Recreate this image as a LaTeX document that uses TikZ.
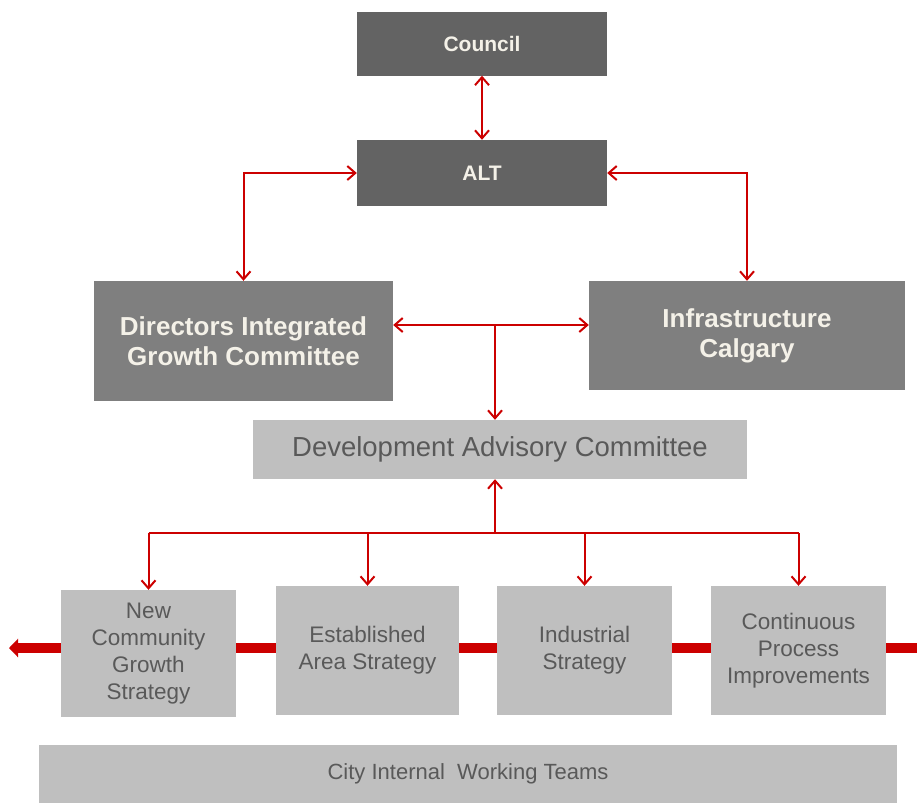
\documentclass[tikz,border=0pt]{standalone}
\usepackage{fontspec}
\setmainfont{Liberation Sans}
\usepackage{tikz}
\usetikzlibrary{calc,arrows.meta}
\definecolor{darkbox}{HTML}{636363}
\definecolor{midbox}{HTML}{7F7F7F}
\definecolor{lightbox}{HTML}{BFBFBF}
\definecolor{boxtext}{HTML}{595959}
\definecolor{paletext}{HTML}{F4F1E8}
\definecolor{linkred}{HTML}{CC0000}
\newcommand\bigtext{\fontsize{26}{30}\selectfont}
\newcommand\smalltext{\fontsize{22.5}{27}\selectfont}

\begin{document}
\begin{tikzpicture}[x=1pt,y=-1pt,
  topbox/.style={rectangle, fill=darkbox, text=paletext, font=\fontsize{21}{24}\selectfont\bfseries, minimum width=250pt, minimum height=64pt, inner sep=0pt},
  groupbox/.style={rectangle, fill=midbox, text=paletext, font=\bigtext\bfseries, align=center, inner sep=0pt},
  teambox/.style={rectangle, fill=lightbox, text=boxtext, font=\smalltext, align=center, inner sep=0pt},
  link/.style={draw=linkred, line width=2pt, {Straight Barb[length=8pt,width=14pt]}-{Straight Barb[length=8pt,width=14pt]}},
  onelink/.style={draw=linkred, line width=2pt, -{Straight Barb[length=8pt,width=14pt]}}]
\useasboundingbox (0,0) rectangle (917,803);
% thick bar behind the strategy boxes
\coordinate (barR) at (917,648);
\coordinate (barL) at (9,648);
\draw[linkred, line width=10pt, -{Triangle[length=9pt,width=18pt]}] (barR) -- (barL);
% boxes
\node[topbox] (council) at (482,43.5) {Council};
\node[topbox, minimum height=66pt] (alt) at (482,173) {ALT};
\node[groupbox, minimum width=299pt, minimum height=120pt] (dig) at (243.5,341) {Directors Integrated\\Growth Committee};
\node[groupbox, minimum width=316pt, minimum height=109pt] (ic) at (747,335.5) {Infrastructure\\Calgary};
\node[teambox, font=\fontsize{27.5}{30}\selectfont, minimum width=494pt, minimum height=59pt] (dac) at (500,449.5) {Development Advisory Committee};
\node[teambox, minimum width=175pt, minimum height=127pt] (ncg) at (148.5,653.5) {New\\Community\\Growth\\Strategy};
\node[teambox, minimum width=183pt, minimum height=129pt] (eas) at (367.5,650.5) {Established\\Area Strategy};
\node[teambox, minimum width=175pt, minimum height=129pt] (ind) at (584.5,650.5) {Industrial\\Strategy};
\node[teambox, minimum width=175pt, minimum height=129pt] (cpi) at (798.5,650.5) {Continuous\\Process\\Improvements};
\node[teambox, font=\fontsize{22}{27}\selectfont, minimum width=858pt, minimum height=58pt] (city) at (468,774) {City Internal\ \ Working Teams};
% connectors
\draw[link] (council) -- (alt);
\draw[link] (alt.west) -| (dig.north);
\draw[link] (alt.east) -| (ic.north);
\coordinate (mid) at (495,325);
\draw[link] (dig.east |- mid) -- (ic.west |- mid);
\draw[onelink] (mid) -- (mid |- dac.north);
\coordinate (bus) at (495,533);
\draw[onelink] (bus) -- (bus |- dac.south);
\draw[linkred, line width=2pt] (ncg.north |- bus) -- (cpi.north |- bus);
\foreach \t in {ncg,eas,ind,cpi}
  \draw[onelink] (\t.north |- bus) -- (\t.north);
\end{tikzpicture}
\end{document}
